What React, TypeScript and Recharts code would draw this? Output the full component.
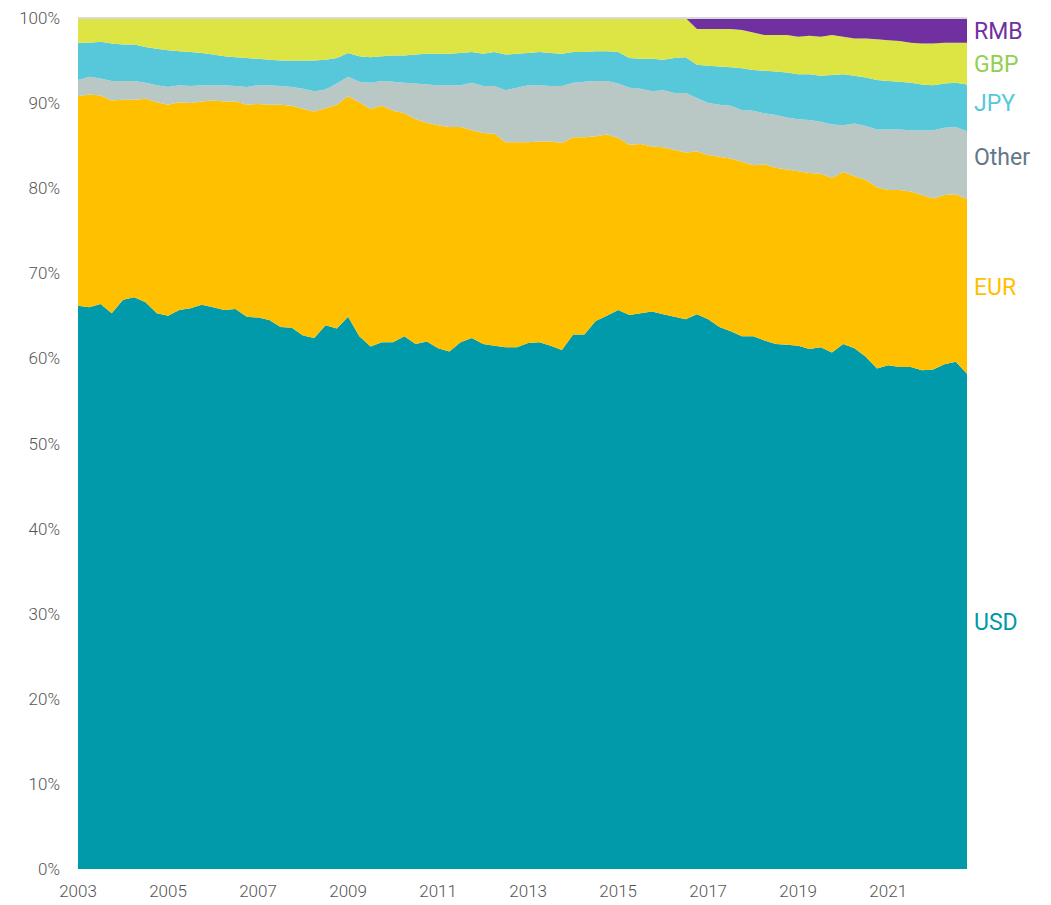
import { AreaChart, Area, XAxis, YAxis, ReferenceLine, ReferenceDot } from "recharts";

// quarterly, 2003 Q1 .. 2022 Q4
const years = [2003, 2004, 2005, 2006, 2007, 2008, 2009, 2010, 2011, 2012, 2013, 2014, 2015, 2016, 2017, 2018, 2019, 2020, 2021, 2022];
const quarterOffsets = [0, 0.25, 0.5, 0.75];
const xTicks = [2003, 2005, 2007, 2009, 2011, 2013, 2015, 2017, 2019, 2021];
const yTicks = [0, 10, 20, 30, 40, 50, 60, 70, 80, 90, 100];

const usd = [
  66.2, 66.0, 66.4, 65.3, 66.9, 67.2, 66.6, 65.3, 65.0, 65.7,
  65.9, 66.3, 66.0, 65.7, 65.8, 64.9, 64.8, 64.5, 63.7, 63.6,
  62.7, 62.4, 63.9, 63.5, 64.9, 62.6, 61.4, 61.9, 61.9, 62.6,
  61.7, 62.0, 61.2, 60.8, 61.9, 62.4, 61.7, 61.5, 61.3, 61.3,
  61.8, 61.9, 61.5, 61.0, 62.8, 62.8, 64.4, 65.0, 65.7, 65.1,
  65.3, 65.5, 65.2, 64.9, 64.6, 65.2, 64.6, 63.7, 63.2, 62.6,
  62.6, 62.1, 61.7, 61.6, 61.5, 61.1, 61.3, 60.7, 61.7, 61.2,
  60.2, 58.8, 59.2, 59.0, 59.0, 58.6, 58.7, 59.3, 59.6, 58.2,
];
const eur = [
  24.6, 25.0, 24.5, 25.0, 23.5, 23.2, 23.9, 24.8, 24.8, 24.4,
  24.1, 23.9, 24.3, 24.5, 24.4, 24.9, 25.1, 25.3, 26.1, 26.1,
  26.6, 26.6, 25.5, 26.3, 25.9, 27.5, 27.9, 27.8, 27.2, 26.2,
  26.4, 25.7, 26.2, 26.4, 25.3, 24.4, 24.8, 24.9, 24.1, 24.1,
  23.6, 23.6, 24.0, 24.3, 23.2, 23.2, 21.7, 21.3, 20.2, 20.0,
  19.9, 19.4, 19.6, 19.6, 19.6, 19.1, 19.3, 20.0, 20.3, 20.5,
  20.1, 20.7, 20.7, 20.6, 20.5, 20.7, 20.4, 20.5, 20.2, 20.2,
  20.8, 21.3, 20.6, 20.8, 20.6, 20.6, 20.1, 19.9, 19.7, 20.5,
];
const other = [
  1.9, 2.1, 2.0, 2.3, 2.2, 2.2, 1.9, 2.0, 2.1, 2.0,
  2.0, 1.9, 1.8, 1.9, 1.8, 2.1, 2.2, 2.3, 2.2, 2.2,
  2.4, 2.4, 2.2, 2.5, 2.3, 2.4, 3.1, 2.9, 3.4, 3.6,
  4.2, 4.5, 4.7, 4.9, 4.9, 5.6, 5.5, 5.6, 6.1, 6.4,
  6.7, 6.6, 6.5, 6.7, 6.4, 6.5, 6.5, 6.3, 6.4, 6.7,
  6.5, 6.5, 6.7, 6.7, 7.0, 6.3, 6.1, 6.1, 6.2, 6.1,
  6.4, 6.0, 6.2, 6.1, 6.1, 6.2, 6.1, 6.3, 5.5, 6.2,
  6.3, 6.8, 7.1, 7.1, 7.2, 7.6, 8.0, 7.9, 7.9, 8.0,
];
const jpy = [
  4.4, 4.0, 4.3, 4.4, 4.3, 4.3, 4.2, 4.3, 4.3, 4.0,
  4.0, 3.8, 3.6, 3.4, 3.4, 3.4, 3.1, 3.0, 3.0, 3.1,
  3.3, 3.6, 3.5, 3.0, 2.8, 3.0, 3.0, 2.9, 3.1, 3.2,
  3.4, 3.6, 3.7, 3.7, 3.8, 3.6, 3.8, 4.0, 4.2, 4.0,
  3.8, 3.9, 3.9, 3.8, 3.6, 3.5, 3.5, 3.5, 3.7, 3.5,
  3.5, 3.8, 3.6, 4.1, 4.2, 3.9, 4.4, 4.5, 4.5, 4.9,
  4.8, 5.0, 5.1, 5.3, 5.3, 5.4, 5.4, 5.8, 6.0, 5.6,
  5.7, 5.8, 5.7, 5.6, 5.6, 5.4, 5.3, 5.2, 5.2, 5.5,
];
const gbp = [
  2.9, 2.9, 2.8, 3.0, 3.1, 3.1, 3.4, 3.6, 3.8, 3.9,
  4.0, 4.1, 4.3, 4.5, 4.6, 4.7, 4.8, 4.9, 5.0, 5.0,
  5.0, 5.0, 4.9, 4.7, 4.1, 4.5, 4.6, 4.5, 4.4, 4.4,
  4.3, 4.2, 4.2, 4.2, 4.1, 4.0, 4.2, 4.0, 4.3, 4.2,
  4.1, 4.0, 4.1, 4.2, 4.0, 4.0, 3.9, 3.9, 4.0, 4.7,
  4.8, 4.8, 4.9, 4.7, 4.6, 4.2, 4.3, 4.4, 4.5, 4.5,
  4.4, 4.2, 4.3, 4.4, 4.4, 4.5, 4.6, 4.7, 4.4, 4.4,
  4.6, 4.8, 4.8, 4.8, 4.7, 4.8, 4.9, 4.8, 4.7, 4.9,
];
// RMB only reported from Q4 2016
const rmb = [
  0, 0, 0, 0, 0, 0, 0, 0, 0, 0,
  0, 0, 0, 0, 0, 0, 0, 0, 0, 0,
  0, 0, 0, 0, 0, 0, 0, 0, 0, 0,
  0, 0, 0, 0, 0, 0, 0, 0, 0, 0,
  0, 0, 0, 0, 0, 0, 0, 0, 0, 0,
  0, 0, 0, 0, 0, 1.3, 1.3, 1.3, 1.3, 1.4,
  1.7, 2.0, 2.0, 2.0, 2.2, 2.1, 2.2, 2.0, 2.2, 2.4,
  2.4, 2.5, 2.6, 2.7, 2.9, 3.0, 3.0, 2.9, 2.9, 2.9,
];

const series = [
  { key: "USD", values: usd, fill: "#009aaa", label: "#0099a8", nudge: 0 },
  { key: "EUR", values: eur, fill: "#ffc000", label: "#ffc000", nudge: 0 },
  { key: "Other", values: other, fill: "#b9c8c4", label: "#627888", nudge: 1 },
  { key: "JPY", values: jpy, fill: "#56c8da", label: "#56c8da", nudge: 0.6 },
  { key: "GBP", values: gbp, fill: "#dce543", label: "#92d050", nudge: 0 },
  { key: "RMB", values: rmb, fill: "#7030a0", label: "#7030a0", nudge: 0 },
];

const quarters = years.flatMap((y) => quarterOffsets.map((q) => y + q));

const data = quarters.map((x, i) => {
  const row: Record<string, number> = { x };
  series.forEach((s) => {
    row[s.key] = s.values[i];
  });
  return row;
});

// label positions: middle of each band at the last quarter
const last = quarters.length - 1;
let running = 0;
const endLabels = series.map((s) => {
  const v = s.values[last];
  const mid = running + v / 2 + s.nudge;
  running += v;
  return { key: s.key, y: mid, color: s.label };
});

const tickStyle = { fontSize: 17, fill: "#555555", fontFamily: "Roboto", fontWeight: 300 };

export default function App() {
  return (
    <AreaChart
      width={1040}
      height={895}
      data={data}
      margin={{ top: 10, right: 81, left: 0, bottom: 4 }}
    >
      <XAxis
        dataKey="x"
        type="number"
        domain={[2003, 2022.75]}
        ticks={xTicks}
        tick={tickStyle}
        axisLine={false}
        tickLine={false}
        height={30}
        tickMargin={10}
      />
      <YAxis
        type="number"
        domain={[0, 100]}
        ticks={yTicks}
        tickFormatter={(v) => `${v}%`}
        tick={tickStyle}
        axisLine={false}
        tickLine={false}
        width={70}
        tickMargin={12}
      />
      {series.map((s) => (
        <Area
          key={s.key}
          dataKey={s.key}
          stackId="1"
          type="linear"
          stroke="none"
          fill={s.fill}
          fillOpacity={1}
          isAnimationActive={false}
        />
      ))}
      <ReferenceLine y={100} stroke="#d9d9d9" strokeWidth={2} />
      {endLabels.map((l) => (
        <ReferenceDot
          key={l.key}
          x={2022.75}
          y={l.y}
          r={0}
          fill="none"
          stroke="none"
          label={{
            value: l.key,
            position: "right",
            offset: 7,
            fill: l.color,
            fontSize: 23,
            fontFamily: "Roboto",
          }}
        />
      ))}
    </AreaChart>
  );
}
